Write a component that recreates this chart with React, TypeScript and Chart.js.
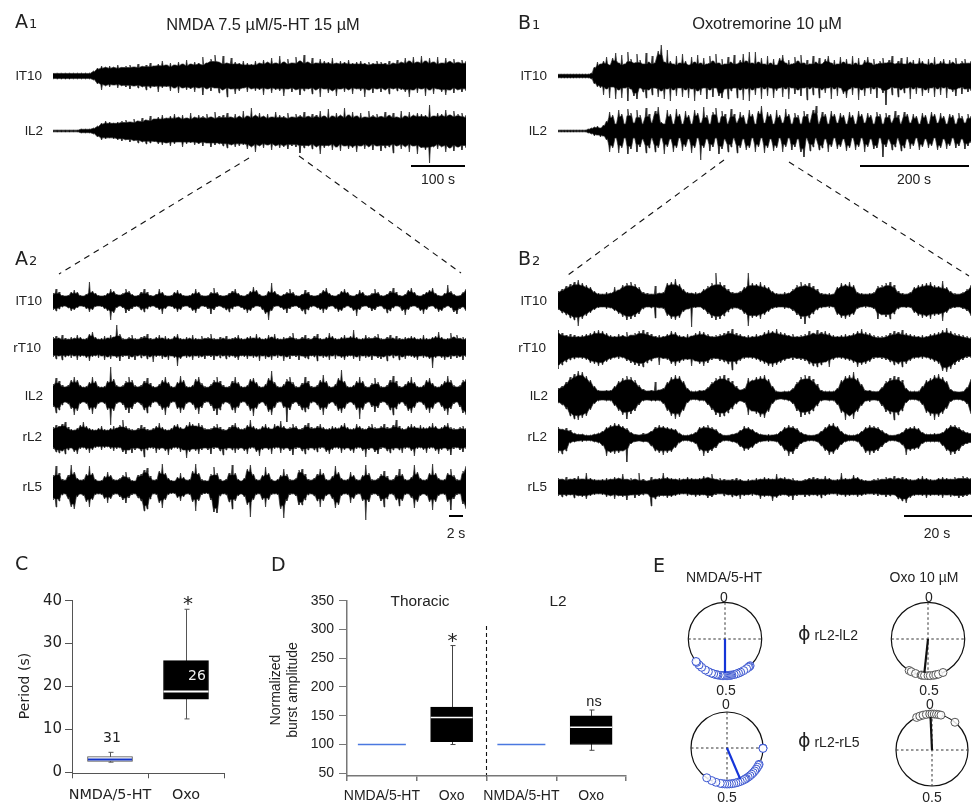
import React, { useEffect, useRef } from "react";
import { Chart, registerables } from "chart.js";

Chart.register(...registerables);

// ---------- recorded traces: upper and lower excursion of each rectified trace ----------
const a1T10Up = [3,3,3,3,3,3,3,3,3,3,5,8,10,9,10,9,11,9,10,11,9,12,10,11,13,10,12,15,11,13,11,14,12,16,12,14,13,19,13,17,21,14,20,13,18,14,13,15,13,12,15,13,16,14,18,13,20,14,17,13,19,15,21,14,18,13,17,15,14,18,13,15,14,16,13,14,15,13,14,13,15,14,13,15,13,16,14,18,15,19,14,20,15,18,14,19,13,18,15,17,14,16,15];
const a1T10Lo = [3,3,3,3,3,3,3,3,3,3,4,8,14,10,11,9,12,10,11,13,10,12,11,14,12,11,16,12,11,15,12,17,12,14,13,16,12,19,13,15,12,17,14,21,13,18,15,12,16,13,15,14,19,13,17,14,15,20,13,16,14,19,15,13,18,14,21,13,17,15,20,13,16,14,18,13,15,21,14,17,13,16,14,18,13,15,14,16,21,14,17,13,20,14,18,13,16,19,14,17,14,16,15];
const a1L2Up = [1,1,1,1,1,1,1,2,2,2,3,5,8,10,9,8,9,10,11,9,12,10,13,11,15,12,14,16,13,15,17,14,16,13,18,14,16,15,17,14,19,15,16,18,14,17,15,20,15,23,16,18,15,17,14,19,16,15,18,14,17,16,19,15,17,16,20,15,22,15,18,16,23,16,19,15,18,14,20,16,17,15,19,16,18,14,20,15,19,16,18,17,16,26,15,18,17,21,16,20,17,18,16];
const a1L2Lo = [1,1,1,1,1,1,1,2,2,2,3,6,9,8,7,8,9,10,9,11,10,12,11,13,12,11,13,14,12,15,13,11,16,13,12,14,13,15,12,16,14,13,15,17,14,16,15,14,18,16,21,15,17,14,19,15,17,16,18,15,16,22,17,15,18,16,23,17,15,19,16,20,15,18,17,21,15,18,16,19,15,20,17,16,22,15,18,16,21,15,23,17,19,32,16,18,16,21,17,20,16,19,17];

const b1T10Up = [2,2,2,2,2,2,2,2,2,2,2,3,9,14,12,15,19,11,18,23,13,21,12,24,17,13,22,16,12,23,14,20,13,25,31,14,26,15,12,20,13,22,15,11,19,14,21,13,18,12,20,15,22,13,17,12,19,14,21,12,16,22,15,24,13,24,14,18,12,20,13,17,11,18,21,13,16,12,19,15,21,13,16,12,20,14,18,12,17,20,13,16,12,19,14,17,12,20,13,18,11,16,19,13,17,12,15,18,13,16,20,12,15,18,12,19,14,16,12,18,15,12,17,13,19,12,15,17,12,16,14,18,12,15,17,13,15];
const b1T10Lo = [2,2,2,2,2,2,2,2,2,2,2,3,8,11,12,19,13,22,11,23,14,22,12,25,13,20,23,12,16,22,14,19,12,21,15,23,13,25,14,20,12,21,14,22,13,25,15,19,12,23,14,21,12,20,22,13,23,15,12,22,14,24,13,25,14,19,12,23,13,20,12,22,15,12,21,13,23,12,18,14,20,12,24,13,19,12,22,14,17,12,23,13,20,12,18,22,13,19,12,24,14,20,12,18,13,22,12,17,29,13,19,12,21,14,17,12,23,13,18,12,20,14,17,12,21,13,19,12,22,13,16,20,12,18,13,16,15];
const b1L2Up = [1,1,1,1,1,1,1,1,1,1,2,3,4,5,3,6,10,19,16,7,21,17,7,22,18,8,21,16,7,23,17,8,20,24,9,7,21,17,7,22,17,7,20,16,7,21,18,8,24,16,7,19,23,8,20,17,7,22,17,8,19,16,7,21,17,7,20,25,8,19,17,7,21,16,8,22,17,7,18,16,7,20,17,8,21,25,7,19,17,7,20,17,8,18,16,7,19,16,7,20,17,8,18,16,7,19,17,7,18,16,8,20,16,7,19,17,8,17,15,7,18,16,7,19,17,8,18,15,7,17,16,7,18,15,8,17,15];
const b1L2Lo = [1,1,1,1,1,1,1,1,1,1,2,3,5,4,6,5,9,21,17,7,22,17,7,23,18,7,21,16,8,22,17,7,21,17,7,23,16,8,21,17,7,20,16,8,22,17,7,29,17,8,20,16,7,23,18,8,21,16,7,22,17,8,19,17,7,21,16,7,22,17,8,20,17,7,21,16,7,19,16,8,21,26,7,20,16,7,19,17,8,21,16,7,18,16,8,20,17,7,19,16,7,21,16,8,18,17,7,26,16,8,19,16,7,20,17,8,18,15,7,19,16,8,17,15,7,19,17,8,18,15,7,17,15,8,18,15,12];

const a2T10Up = [8,12,9,6,5,6,9,11,9,6,5,7,19,10,8,6,5,6,8,12,10,7,6,8,12,10,7,5,6,9,12,9,6,5,7,12,9,6,5,6,9,11,8,6,5,6,8,12,9,6,5,6,9,13,9,6,5,6,8,10,12,8,6,5,7,10,14,11,7,5,6,10,18,10,7,5,7,9,12,9,6,5,7,11,9,6,5,6,8,11,13,8,6,5,7,10,12,9,6,5,7,11,9,6,6,8,12,9,6,5,7,10,13,9,6,5,7,11,13,9,6,5,7,9,11,13,8,6,5,8,16,10,7,5,6,9,12];
const a2T10Lo = [9,10,8,6,5,7,10,9,7,5,6,8,11,9,6,5,6,8,10,19,12,7,5,7,12,10,8,6,6,9,11,8,6,5,7,9,13,8,5,6,8,11,9,6,5,7,10,12,8,5,6,8,13,9,6,5,7,9,11,8,6,5,7,9,12,10,7,5,6,9,13,19,10,6,5,7,9,12,8,6,5,7,10,13,9,6,5,7,9,12,9,6,5,8,11,10,7,5,7,10,15,9,6,5,7,10,9,6,5,8,12,10,7,5,6,10,14,9,6,5,7,10,13,9,6,5,8,11,10,7,5,7,11,13,8,6,10];
const a2R10Up = [10,11,9,12,9,8,10,9,12,10,8,9,13,15,10,8,9,11,9,12,10,22,13,9,8,10,12,9,8,10,11,13,9,8,10,12,9,11,9,8,11,13,9,8,10,9,12,9,8,11,9,10,13,9,8,10,9,11,8,9,10,12,9,8,10,11,9,13,10,8,9,12,10,13,9,8,10,9,11,14,9,8,10,12,9,8,11,13,9,8,10,14,11,9,8,10,12,9,11,17,10,8,9,12,10,9,11,13,9,8,10,12,9,11,9,8,10,9,11,10,8,9,12,9,8,10,11,15,10,8,9,14,10,12,9,10,9];
const a2R10Lo = [10,12,9,13,10,9,11,9,13,10,9,11,14,10,9,11,9,13,10,12,9,11,14,10,9,12,10,13,9,11,9,12,10,15,10,9,12,10,13,9,11,19,12,9,11,10,13,9,11,10,12,9,10,13,9,11,9,12,10,9,11,13,9,10,12,9,11,10,14,9,12,10,13,9,11,9,14,10,12,9,10,13,9,11,12,9,10,14,9,11,10,13,9,12,9,11,13,10,9,12,10,14,9,11,10,13,9,11,12,10,14,9,11,9,13,10,12,9,10,11,13,9,11,10,12,21,11,9,11,13,10,12,9,11,10,13,10];
const a2L2Up = [11,17,14,10,8,10,15,18,15,10,8,9,13,18,14,9,8,9,14,28,16,10,8,10,14,18,15,10,8,10,14,17,12,9,8,11,15,18,13,9,8,13,19,15,9,8,10,16,18,12,9,8,11,15,18,14,10,8,9,14,18,13,9,8,10,16,17,13,9,8,11,17,24,13,9,8,11,16,18,13,9,8,12,18,14,9,8,10,15,20,14,9,8,11,17,25,14,9,8,10,14,18,14,9,8,12,17,13,9,8,10,15,19,14,9,8,11,14,18,13,9,8,10,15,17,12,9,8,11,14,19,15,10,8,10,15,16];
const a2L2Lo = [12,18,15,10,7,9,14,20,16,9,7,9,15,19,14,9,7,9,15,30,16,9,7,10,15,18,14,9,7,10,15,18,12,8,7,11,15,20,13,8,7,14,18,15,9,7,10,15,19,13,8,7,11,16,20,15,9,7,9,15,18,13,8,7,11,16,21,14,9,7,11,17,20,13,8,7,13,27,15,9,7,11,15,17,14,8,7,10,15,20,14,9,7,11,16,18,14,9,7,10,15,24,15,9,7,12,17,13,8,7,10,15,20,14,9,7,11,16,18,13,8,7,10,15,18,14,9,7,12,16,20,14,9,7,12,18,20];
const a2RL2Up = [11,13,12,14,16,11,9,8,10,13,16,12,10,9,8,10,12,9,8,10,12,10,13,18,12,10,9,8,10,13,11,9,8,10,12,15,11,9,8,10,13,14,11,9,13,16,14,12,15,13,10,9,10,12,14,11,9,8,11,13,15,11,9,10,13,18,12,10,9,12,14,11,9,14,12,17,12,9,11,14,12,9,10,13,15,11,10,12,14,11,9,10,12,11,10,13,15,11,9,10,14,12,10,9,12,14,11,10,12,14,11,10,13,18,12,10,9,12,14,12,10,13,11,10,12,15,12,9,11,13,15,11,10,9,11,12,10];
const a2RL2Lo = [11,14,15,13,16,12,10,14,16,11,10,12,15,12,10,9,12,10,9,11,13,11,10,14,16,12,15,12,10,13,19,12,10,11,15,12,10,13,17,12,10,11,14,12,20,14,11,13,16,12,10,12,16,11,10,13,17,12,10,12,15,12,10,13,16,11,10,14,18,12,10,12,16,11,10,15,12,10,13,17,11,10,13,16,12,10,12,14,11,10,14,16,12,10,11,15,12,10,13,15,11,10,13,19,12,10,14,16,11,10,13,15,12,10,12,15,11,10,13,18,11,10,12,15,11,10,13,16,12,10,13,17,11,10,12,14,11];
const a2L5Up = [12,21,14,8,7,12,22,15,9,7,8,13,21,14,8,6,7,11,15,12,8,7,9,12,15,10,7,6,12,13,17,19,11,7,8,16,23,14,9,7,6,10,14,10,7,8,16,23,14,8,7,6,13,20,14,8,6,8,14,22,14,8,6,9,18,22,13,8,7,12,20,14,8,6,8,12,18,13,8,7,9,17,18,13,8,7,9,13,18,14,8,7,11,21,15,9,7,8,15,12,8,7,12,22,14,8,7,9,13,16,11,7,8,12,18,13,8,7,10,22,15,9,7,8,14,23,14,9,7,8,14,18,12,8,7,16,21];
const a2L5Lo = [13,20,14,8,7,12,20,22,10,7,9,15,20,13,8,7,8,12,16,12,8,7,10,13,16,11,8,7,11,14,24,22,12,7,8,16,21,13,8,7,7,11,14,10,7,8,15,24,14,8,7,7,13,25,26,9,7,8,15,22,14,9,7,10,18,30,13,8,7,13,20,13,8,7,8,22,31,14,8,7,9,18,18,13,8,7,9,14,20,14,9,7,12,21,18,9,7,8,16,12,8,7,14,33,15,8,7,9,14,20,12,7,8,13,19,14,8,7,11,21,15,9,7,9,15,23,15,9,7,8,15,23,12,8,7,17,22];

const b2T10Up = [10,12,15,17,19,21,18,16,14,10,8,7,9,8,14,11,16,18,19,17,14,9,8,7,15,8,9,18,19,22,17,12,9,8,9,8,12,15,18,28,19,16,12,9,8,10,14,28,18,17,19,16,14,10,8,7,9,8,12,16,19,17,18,15,12,8,7,8,7,14,18,17,19,16,9,8,7,8,9,15,16,18,19,16,10,8,7,9,14,16,17,18,19,16,15,20,14,10,8,7,9,12,16];
const b2T10Lo = [9,12,14,17,19,25,18,15,12,9,7,6,8,7,10,13,16,19,18,16,13,8,6,7,17,7,8,15,18,19,17,11,8,26,7,6,9,13,17,19,18,15,11,8,7,9,13,25,17,16,18,14,11,8,7,6,8,7,10,14,18,23,17,13,9,7,6,7,6,14,17,18,16,14,8,6,7,6,8,18,14,16,18,13,8,6,7,7,12,15,17,16,18,15,14,20,12,8,7,6,8,10,15];
const b2R10Up = [18,15,13,14,13,12,13,14,15,17,18,17,15,13,12,14,13,16,13,15,17,18,16,14,12,13,12,14,17,16,13,12,14,12,15,17,16,14,12,13,14,15,17,19,15,14,12,13,12,14,13,16,18,17,19,16,15,13,14,12,13,14,17,15,18,16,17,15,13,12,13,14,13,15,17,19,16,15,13,12,12,13,15,17,16,18,15,14,13,12,13,12,14,15,16,18,20,17,15,14,13,12,11];
const b2R10Lo = [21,17,14,12,11,10,11,12,15,16,18,17,14,12,10,11,10,13,15,17,18,19,15,13,10,17,11,12,16,18,15,13,12,18,13,16,18,15,12,11,13,14,16,22,16,13,11,10,11,12,14,16,18,19,17,15,13,11,12,11,12,13,16,18,19,17,14,19,12,10,11,12,13,15,19,17,16,14,11,10,11,12,14,17,16,19,16,13,11,10,11,10,12,14,16,23,24,21,17,14,12,10,10];
const b2L2Up = [8,10,14,19,22,25,24,20,16,10,6,5,6,6,10,15,18,20,19,16,11,7,5,6,14,6,8,14,19,21,20,15,8,5,5,6,6,9,14,18,20,21,18,15,10,6,8,18,16,19,20,21,17,10,5,4,5,5,8,14,19,21,20,17,12,6,5,5,5,8,16,20,21,24,18,12,6,6,5,5,9,15,18,20,19,16,8,5,5,5,10,16,18,21,22,19,15,7,5,4,5,9,17];
const b2L2Lo = [7,9,13,20,23,24,22,20,14,8,5,4,5,5,10,15,19,23,18,15,9,5,4,5,5,5,8,15,20,23,21,15,7,4,4,5,5,9,14,19,21,20,17,13,8,5,7,19,15,18,21,22,16,8,4,3,4,5,8,15,21,19,18,15,10,5,4,5,5,9,17,24,20,23,16,10,5,6,4,5,10,16,18,24,19,15,7,4,4,5,9,17,20,24,21,18,13,6,4,4,5,8,18];
const b2RL2Up = [11,9,10,8,5,4,4,3,3,4,5,7,11,13,15,14,12,10,6,4,3,5,4,7,11,13,12,11,10,9,5,3,3,4,6,11,12,13,11,9,5,3,3,4,5,8,12,11,9,6,4,3,4,3,4,7,11,13,12,10,6,4,3,3,4,7,11,14,15,12,7,4,3,3,4,7,11,13,12,11,8,5,3,3,4,6,10,11,12,10,6,4,4,5,4,6,10,13,13,11,8,6,5];
const b2RL2Lo = [15,16,13,5,4,3,4,3,3,4,5,8,18,15,16,15,13,24,6,4,3,4,4,8,13,15,17,15,14,10,5,3,3,4,6,13,18,15,13,10,5,3,3,4,5,9,13,12,10,6,4,3,4,3,4,8,13,18,16,11,6,4,3,3,4,8,13,17,16,12,7,4,3,3,4,9,15,17,15,13,9,5,3,3,4,7,17,13,12,11,6,4,4,4,4,8,13,17,16,13,8,6,5];
const b2L5Up = [9,8,10,8,9,11,8,14,9,8,7,8,9,8,10,9,13,8,9,8,14,8,6,10,8,9,14,10,9,8,9,8,10,9,8,9,11,10,13,8,9,8,7,8,9,8,6,8,7,9,8,10,9,8,13,9,10,8,9,7,6,8,9,10,9,8,11,9,7,8,14,9,8,12,10,8,7,6,8,9,8,10,9,11,9,10,9,8,7,9,11,9,8,7,9,10,9,8,10,9,11,10,9];
const b2L5Lo = [9,10,9,8,11,9,10,12,9,8,7,8,10,9,12,9,10,13,8,11,9,8,7,19,12,10,9,11,10,9,8,7,9,8,10,9,8,11,10,8,7,9,8,10,9,12,9,8,9,8,12,10,9,14,11,9,8,10,13,9,8,10,9,8,9,11,9,8,7,9,8,10,9,8,10,9,8,7,8,9,8,10,9,8,12,14,16,11,9,8,9,11,9,8,9,11,8,10,9,11,10,9,8];

// ---------- panel C: period ----------
const periodCats = ["NMDA/5-HT", "Oxo"];
const periodQ1 = [2.5, 17];
const periodQ3 = [3.6, 26];
const periodMedian = [2.9, 18.8];
const periodLow = [2.3, 12.4];
const periodHigh = [4.6, 38];
const periodTicks = [0, 10, 20, 30, 40];

// ---------- panel D: burst amplitude ----------
const ampCats = ["NMDA/5-HT", "Oxo", "NMDA/5-HT", "Oxo"];
const ampQ1 = [100, 105, 100, 100];
const ampQ3 = [100, 165, 100, 150];
const ampMedian = [100, 147, 100, 130];
const ampLow = [100, 100, 100, 90];
const ampHigh = [100, 272, 100, 160];
const ampTicks = [50, 100, 150, 200, 250, 300, 350];

// ---------- panel E: phases (fraction of a cycle, 0 at top, clockwise) ----------
const phaseNmdaL2 = [0.38,0.385,0.39,0.4,0.415,0.43,0.44,0.45,0.46,0.47,0.475,0.48,0.485,0.49,0.495,0.5,0.505,0.51,0.515,0.52,0.53,0.535,0.54,0.55,0.56,0.575,0.59,0.61,0.625,0.64,0.645];
const phaseOxoL2 = [0.586,0.575,0.555,0.53,0.525,0.515,0.5,0.49,0.476,0.465,0.454,0.433];
const phaseNmdaL5 = [0.25,0.252,0.325,0.33,0.34,0.35,0.36,0.37,0.38,0.39,0.4,0.41,0.415,0.42,0.43,0.44,0.45,0.46,0.47,0.48,0.49,0.5,0.51,0.52,0.53,0.55,0.57,0.595];
const phaseOxoL5 = [0.93,0.945,0.96,0.975,0.99,0.0,0.01,0.02,0.03,0.04,0.11];
const meanNmdaL2 = [0.5, 0.92];
const meanOxoL2 = [0.517, 0.93];
const meanNmdaL5 = [0.436, 0.94];
const meanOxoL5 = [0.993, 0.92];

const ARIAL = '"Liberation Sans", Arial, sans-serif';
const DEJA = '"DejaVu Sans", sans-serif';

function ChartBox({ left, top, width, height, make }: any) {
  const ref = useRef<HTMLCanvasElement>(null);
  useEffect(() => {
    const chart = new Chart(ref.current as HTMLCanvasElement, make());
    return () => chart.destroy();
  }, []);
  return (
    <canvas
      ref={ref}
      width={width}
      height={height}
      style={{ position: "absolute", left, top, width, height, display: "block" }}
    />
  );
}

const TRACE_H = 80;

// Each sample becomes a thin spike standing on the solid core of the trace.
function spikePoints(v: number[], sign: number, widthPx: number) {
  const hw = 0.8 / widthPx;
  const pts: { x: number; y: number }[] = [];
  v.forEach((val, i) => {
    const x = i / (v.length - 1);
    const near = [v[i - 1] ?? val, val, v[i + 1] ?? val].sort((a, b) => a - b)[1];
    const core = Math.min(val, 0.85 * near);
    pts.push({ x: x - hw, y: sign * core }, { x, y: sign * val }, { x: x + hw, y: sign * core });
  });
  return pts;
}

function traceConfig(up: number[], lo: number[], widthPx: number) {
  const style = { borderColor: "#2a2a2a", borderWidth: 0.7, backgroundColor: "#000", pointRadius: 0, fill: "origin", tension: 0 };
  return {
    type: "line",
    data: { datasets: [{ data: spikePoints(up, 1, widthPx), ...style }, { data: spikePoints(lo, -1, widthPx), ...style }] },
    options: {
      animation: false,
      responsive: false,
      maintainAspectRatio: false,
      layout: { padding: 0 },
      plugins: { legend: { display: false }, tooltip: { enabled: false } },
      scales: {
        x: { type: "linear", min: 0, max: 1, display: false },
        y: { min: -TRACE_H / 2, max: TRACE_H / 2, display: false },
      },
    },
  };
}

function Trace({ x1, x2, base, up, lo }: any) {
  return (
    <ChartBox left={x1} top={base - TRACE_H / 2} width={x2 - x1} height={TRACE_H} make={() => traceConfig(up, lo, x2 - x1)} />
  );
}

function boxConfig(o: any) {
  const boxPlugin = {
    id: "boxExtras",
    beforeDatasetsDraw(chart: any) {
      const { ctx, scales } = chart;
      ctx.save();
      ctx.strokeStyle = o.whiskerColor;
      ctx.lineWidth = 1;
      o.cats.forEach((_: string, i: number) => {
        if (o.high[i] === o.low[i]) return;
        const x = Math.round(scales.x.getPixelForValue(i)) + 0.5;
        const yh = scales.y.getPixelForValue(o.high[i]);
        const yl = scales.y.getPixelForValue(o.low[i]);
        ctx.beginPath();
        ctx.moveTo(x, yh); ctx.lineTo(x, yl);
        ctx.moveTo(x - 2, yh); ctx.lineTo(x + 3, yh);
        ctx.moveTo(x - 2, yl); ctx.lineTo(x + 3, yl);
        ctx.stroke();
      });
      ctx.restore();
    },
    afterDatasetsDraw(chart: any) {
      const { ctx, scales } = chart;
      ctx.save();
      o.cats.forEach((_: string, i: number) => {
        const x = scales.x.getPixelForValue(i);
        const y = scales.y.getPixelForValue(o.median[i]);
        const half = o.medianWidth[i] / 2;
        ctx.strokeStyle = o.medianColor[i];
        ctx.lineWidth = o.medianLine;
        ctx.beginPath();
        ctx.moveTo(x - half, y); ctx.lineTo(x + half, y);
        ctx.stroke();
      });
      ctx.restore();
    },
  };
  return {
    type: "bar",
    data: {
      labels: o.cats,
      datasets: [{
        data: o.q1.map((v: number, i: number) => [v, o.q3[i]]),
        backgroundColor: o.boxFill,
        borderColor: o.boxEdge,
        borderWidth: 1,
        borderSkipped: false,
        barThickness: o.thickness,
      }],
    },
    plugins: [boxPlugin],
    options: {
      animation: false,
      responsive: false,
      maintainAspectRatio: false,
      layout: { padding: o.padding },
      plugins: { legend: { display: false }, tooltip: { enabled: false } },
      scales: {
        x: {
          type: "category",
          offset: true,
          border: { color: o.axis, width: o.axisWidth },
          grid: { offset: true, drawOnChartArea: false, color: o.axis, tickLength: 5, lineWidth: o.axisWidth },
          ticks: { font: { family: o.font, size: o.xSize }, color: "#222", padding: o.xPad, maxRotation: 0, autoSkip: false },
          afterFit: (s: any) => { s.height = o.xHeight; s.paddingLeft = 0; s.paddingRight = 0; },
        },
        y: {
          min: o.min,
          max: o.max,
          border: { color: o.axis, width: o.axisWidth },
          grid: { drawOnChartArea: false, color: o.axis, tickLength: o.yTick, lineWidth: 1 },
          ticks: { font: { family: o.font, size: o.ySize }, color: "#222", padding: o.yPad },
          afterBuildTicks: (s: any) => { s.ticks = o.ticks.map((value: number) => ({ value })); },
          afterFit: (s: any) => { s.width = o.yWidth; s.paddingTop = 0; s.paddingBottom = 0; },
        },
      },
    },
  };
}

function polarConfig(phases: number[], mean: number[], color: string, edge: string, radiusPx: number, size: number) {
  const at = (p: number, r: number) => ({ x: r * Math.sin(2 * Math.PI * p), y: r * Math.cos(2 * Math.PI * p) });
  const lim = size / 2 / radiusPx;
  const circle = {
    id: "unitCircle",
    beforeDatasetsDraw(chart: any) {
      const { ctx, scales } = chart;
      const cx = scales.x.getPixelForValue(0);
      const cy = scales.y.getPixelForValue(0);
      const r = scales.x.getPixelForValue(1) - cx;
      ctx.save();
      ctx.strokeStyle = "#111";
      ctx.lineWidth = 1.2;
      ctx.beginPath();
      ctx.arc(cx, cy, r, 0, 2 * Math.PI);
      ctx.stroke();
      ctx.restore();
    },
  };
  const dash = { showLine: true, borderColor: "#333", borderWidth: 1, borderDash: [2.5, 2.5], pointRadius: 0 };
  return {
    type: "scatter",
    data: {
      datasets: [
        { data: [at(0, 0), at(mean[0], mean[1])], showLine: true, borderColor: color, borderWidth: 2.2, pointRadius: 0 },
        { data: phases.map((p) => at(p, 1)), pointRadius: 4, pointBackgroundColor: "rgba(255,255,255,0.85)", pointBorderColor: edge, pointBorderWidth: 1 },
        { data: [at(0.75, 1), at(0.25, 1)], ...dash },
        { data: [at(0, 1), at(0.5, 1)], ...dash },
      ],
    },
    plugins: [circle],
    options: {
      animation: false,
      responsive: false,
      maintainAspectRatio: false,
      layout: { padding: 0, autoPadding: false },
      plugins: { legend: { display: false }, tooltip: { enabled: false } },
      scales: {
        x: { type: "linear", min: -lim, max: lim, display: false },
        y: { type: "linear", min: -lim, max: lim, display: false },
      },
    },
  };
}

function Polar({ cx, cy, r, phases, mean, color, edge }: any) {
  const size = 110;
  return (
    <ChartBox left={cx - size / 2} top={cy - size / 2} width={size} height={size} make={() => polarConfig(phases, mean, color, edge, r, size)} />
  );
}

function T({ x, y, children, align = "center", size = 14, font = ARIAL, color = "#222", rotate = 0 }: any) {
  const tx = align === "center" ? "-50%" : align === "right" ? "-100%" : "0";
  return (
    <div
      style={{
        position: "absolute", left: x, top: y, whiteSpace: "nowrap", lineHeight: 1, fontFamily: font, fontSize: size, color,
        transform: `translate(${tx}, -50%)${rotate ? ` rotate(${rotate}deg)` : ""}`,
      }}
    >
      {children}
    </div>
  );
}

function Letter({ x, y, name, sub }: any) {
  return (
    <div style={{ position: "absolute", left: x, top: y, transform: "translateY(-50%)", lineHeight: 1, fontFamily: DEJA, color: "#222", fontSize: 19, whiteSpace: "nowrap" }}>
      {name}
      {sub ? <span style={{ fontSize: 13, marginLeft: 1 }}>{sub}</span> : null}
    </div>
  );
}

function Bar({ x1, x2, y }: any) {
  return <div style={{ position: "absolute", left: x1, top: y - 1, width: x2 - x1, height: 2, background: "#000" }} />;
}

export default function App() {
  const tr = (x1: number, x2: number) => ({ x1, x2 });
  const A = tr(53, 466);
  const B = tr(558, 971);
  return (
    <div style={{ position: "absolute", left: 0, top: 0, width: 974, height: 803, overflow: "hidden", background: "#fff" }}>
      <Trace {...A} base={76} up={a1T10Up} lo={a1T10Lo} />
      <Trace {...A} base={131} up={a1L2Up} lo={a1L2Lo} />
      <Trace {...B} base={76} up={b1T10Up} lo={b1T10Lo} />
      <Trace {...B} base={131} up={b1L2Up} lo={b1L2Lo} />

      <Trace {...A} base={301} up={a2T10Up} lo={a2T10Lo} />
      <Trace {...A} base={347} up={a2R10Up} lo={a2R10Lo} />
      <Trace {...A} base={395} up={a2L2Up} lo={a2L2Lo} />
      <Trace {...A} base={438} up={a2RL2Up} lo={a2RL2Lo} />
      <Trace {...A} base={487} up={a2L5Up} lo={a2L5Lo} />

      <Trace {...B} base={301} up={b2T10Up} lo={b2T10Lo} />
      <Trace {...B} base={348} up={b2R10Up} lo={b2R10Lo} />
      <Trace {...B} base={396} up={b2L2Up} lo={b2L2Lo} />
      <Trace {...B} base={438} up={b2RL2Up} lo={b2RL2Lo} />
      <Trace {...B} base={487} up={b2L5Up} lo={b2L5Lo} />

      <svg width={974} height={803} style={{ position: "absolute", left: 0, top: 0 }}>
        <g stroke="#111" strokeWidth={1.1} strokeDasharray="6 5" fill="none">
          <line x1={249} y1={158} x2={59} y2={274} />
          <line x1={299} y1={156} x2={461} y2={273} />
          <line x1={724} y1={160} x2={568} y2={275} />
          <line x1={789} y1={162} x2={969} y2={276} />
          <line x1={486.5} y1={626} x2={486.5} y2={779} strokeDasharray="4 3" />
        </g>
      </svg>

      <Bar x1={411} x2={465} y={166} />
      <Bar x1={860} x2={969} y={166} />
      <Bar x1={449} x2={463} y={516} />
      <Bar x1={904} x2={972} y={516} />

      <Letter x={15} y={21} name="A" sub="1" />
      <Letter x={518} y={22} name="B" sub="1" />
      <Letter x={15} y={258} name="A" sub="2" />
      <Letter x={518} y={258} name="B" sub="2" />
      <Letter x={15} y={563} name="C" />
      <Letter x={271} y={564} name="D" />
      <Letter x={653} y={565} name="E" />

      <T x={263} y={24} size={16.4}>NMDA 7.5 µM/5-HT 15 µM</T>
      <T x={767} y={23} size={16.4}>Oxotremorine 10 µM</T>

      <T x={42} y={76} align="right" size={13.5}>lT10</T>
      <T x={43} y={131} align="right" size={13.5}>lL2</T>
      <T x={547} y={76} align="right" size={13.5}>lT10</T>
      <T x={547} y={131} align="right" size={13.5}>lL2</T>
      <T x={42} y={301} align="right" size={13.5}>lT10</T>
      <T x={41} y={348} align="right" size={13.5}>rT10</T>
      <T x={43} y={396} align="right" size={13.5}>lL2</T>
      <T x={42} y={437} align="right" size={13.5}>rL2</T>
      <T x={42} y={487} align="right" size={13.5}>rL5</T>
      <T x={547} y={301} align="right" size={13.5}>lT10</T>
      <T x={546} y={348} align="right" size={13.5}>rT10</T>
      <T x={548} y={396} align="right" size={13.5}>lL2</T>
      <T x={547} y={437} align="right" size={13.5}>rL2</T>
      <T x={547} y={487} align="right" size={13.5}>rL5</T>

      <T x={438} y={179}>100 s</T>
      <T x={914} y={179}>200 s</T>
      <T x={456} y={533}>2 s</T>
      <T x={937} y={533}>20 s</T>

      {/* Panel C */}
      <ChartBox
        left={0} top={590} width={240} height={213}
        make={() => boxConfig({
          cats: periodCats, q1: periodQ1, q3: periodQ3, median: periodMedian, low: periodLow, high: periodHigh,
          ticks: periodTicks, min: -0.3, max: 40, thickness: 45, boxFill: ["#fff", "#000"], boxEdge: ["#555", "#000"],
          medianColor: ["#1535c8", "#fff"], medianWidth: [44, 45], medianLine: 2, whiskerColor: "#555",
          padding: { top: 10.7, right: 16, left: 0, bottom: 0 }, yWidth: 72, xHeight: 29.7, axis: "#555", axisWidth: 1,
          font: DEJA, xSize: 14.4, ySize: 15, xPad: 8, yTick: 7, yPad: 3,
        })}
      />
      <T x={24} y={686} rotate={-90} size={14} font={DEJA}>Period (s)</T>
      <T x={112} y={737} size={14} font={DEJA}>31</T>
      <T x={197} y={675} size={14} font={DEJA} color="#eee">26</T>
      <T x={188} y={603} size={20} font={DEJA}>*</T>

      {/* Panel D */}
      <ChartBox
        left={300} top={590} width={340} height={213}
        make={() => boxConfig({
          cats: ampCats, q1: ampQ1, q3: ampQ3, median: ampMedian, low: ampLow, high: ampHigh,
          ticks: ampTicks, min: 45.3, max: 350, thickness: 42, boxFill: ["#4a78e0", "#000", "#4a78e0", "#000"], boxEdge: ["#4a78e0", "#000", "#4a78e0", "#000"],
          medianColor: ["#4a78e0", "#fff", "#4a78e0", "#fff"], medianWidth: [48, 42, 48, 42], medianLine: 1.5, whiskerColor: "#444",
          padding: { top: 10.7, right: 14, left: 0, bottom: 0 }, yWidth: 47, xHeight: 27, axis: "#777", axisWidth: 1.5,
          font: ARIAL, xSize: 14, ySize: 14, xPad: 7, yTick: 8, yPad: 5,
        })}
      />
      <T x={275} y={690} rotate={-90} size={14}>Normalized</T>
      <T x={292} y={690} rotate={-90} size={14}>burst amplitude</T>
      <T x={420} y={601} size={15.4}>Thoracic</T>
      <T x={558} y={601} size={15.4}>L2</T>
      <T x={452.5} y={640} size={20} font={DEJA}>*</T>
      <T x={594} y={701} size={14.5}>ns</T>

      {/* Panel E */}
      <Polar cx={724.7} cy={639.3} r={36.7} phases={phaseNmdaL2} mean={meanNmdaL2} color="#1535d8" edge="#3a55d0" />
      <Polar cx={928} cy={639.3} r={36.7} phases={phaseOxoL2} mean={meanOxoL2} color="#111" edge="#555" />
      <Polar cx={727} cy={748.3} r={36} phases={phaseNmdaL5} mean={meanNmdaL5} color="#1535d8" edge="#3a55d0" />
      <Polar cx={931.7} cy={750} r={36} phases={phaseOxoL5} mean={meanOxoL5} color="#111" edge="#555" />
      <T x={724} y={577}>NMDA/5-HT</T>
      <T x={924} y={577}>Oxo 10 µM</T>
      <T x={724} y={597}>0</T>
      <T x={929} y={597}>0</T>
      <T x={726} y={690}>0.5</T>
      <T x={929} y={690}>0.5</T>
      <T x={726} y={704}>0</T>
      <T x={930} y={704}>0</T>
      <T x={727} y={797}>0.5</T>
      <T x={932} y={797}>0.5</T>
      <T x={798} y={633} align="left" size={14}><span style={{ fontFamily: DEJA, fontSize: 19 }}>ϕ</span> rL2-lL2</T>
      <T x={798} y={740} align="left" size={14}><span style={{ fontFamily: DEJA, fontSize: 19 }}>ϕ</span> rL2-rL5</T>
    </div>
  );
}
